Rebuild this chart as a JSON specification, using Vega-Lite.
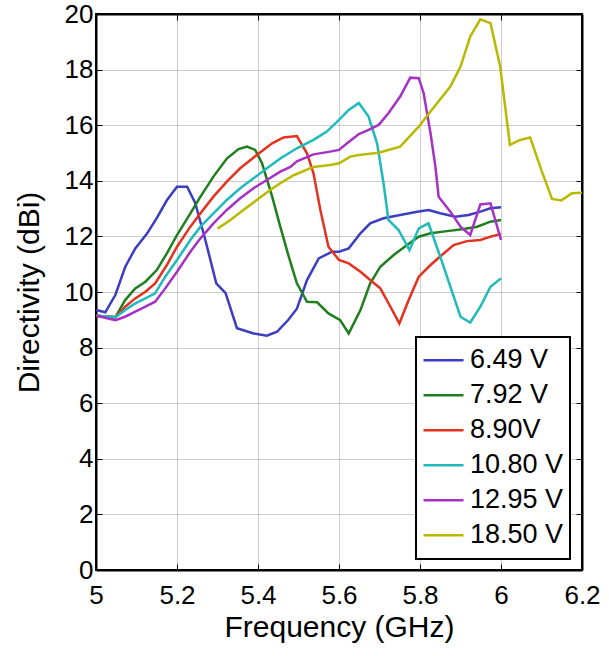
{
  "$schema": "https://vega.github.io/schema/vega-lite/v6.json",
  "width": 486,
  "height": 556,
  "autosize": {"type": "none"},
  "padding": {"left": 96, "top": 14, "right": 27, "bottom": 86},
  "background": "white",
  "config": {
    "font": "Liberation Sans",
    "view": {"stroke": "black", "strokeWidth": 2},
    "axis": {
      "labelFont": "Liberation Sans",
      "labelFontSize": 26,
      "labelColor": "black",
      "titleFont": "Liberation Sans",
      "titleFontSize": 30,
      "titleFontWeight": "normal",
      "titleColor": "black",
      "domainColor": "black",
      "domainWidth": 2,
      "tickColor": "black",
      "tickWidth": 1,
      "tickSize": -6,
      "gridColor": "#9a9a9a",
      "gridDash": [1, 1],
      "gridWidth": 1,
      "labelFlush": false,
      "labelOverlap": false,
      "labelBound": false
    },
    "legend": {
      "orient": "none",
      "legendX": 320,
      "legendY": 323,
      "strokeColor": "black",
      "strokeWidth": 2,
      "fillColor": "white",
      "padding": 6,
      "symbolType": "stroke",
      "symbolSize": 1600,
      "symbolStrokeWidth": 2.5,
      "labelFont": "Liberation Sans",
      "labelFontSize": 27,
      "labelColor": "black",
      "labelOffset": 5,
      "rowPadding": 0,
      "clipHeight": 34.5,
      "title": null
    }
  },
  "data": {
    "values": [
      {"f": 5.0, "d": 9.35, "s": "6.49 V"},
      {"f": 5.023, "d": 9.27, "s": "6.49 V"},
      {"f": 5.048, "d": 9.9, "s": "6.49 V"},
      {"f": 5.072, "d": 10.9, "s": "6.49 V"},
      {"f": 5.097, "d": 11.57, "s": "6.49 V"},
      {"f": 5.126, "d": 12.1, "s": "6.49 V"},
      {"f": 5.15, "d": 12.66, "s": "6.49 V"},
      {"f": 5.175, "d": 13.3, "s": "6.49 V"},
      {"f": 5.2, "d": 13.79, "s": "6.49 V"},
      {"f": 5.225, "d": 13.79, "s": "6.49 V"},
      {"f": 5.245, "d": 13.2, "s": "6.49 V"},
      {"f": 5.27, "d": 11.87, "s": "6.49 V"},
      {"f": 5.297, "d": 10.31, "s": "6.49 V"},
      {"f": 5.32, "d": 9.96, "s": "6.49 V"},
      {"f": 5.348, "d": 8.7, "s": "6.49 V"},
      {"f": 5.389, "d": 8.51, "s": "6.49 V"},
      {"f": 5.422, "d": 8.43, "s": "6.49 V"},
      {"f": 5.447, "d": 8.57, "s": "6.49 V"},
      {"f": 5.475, "d": 9.0, "s": "6.49 V"},
      {"f": 5.496, "d": 9.4, "s": "6.49 V"},
      {"f": 5.521, "d": 10.43, "s": "6.49 V"},
      {"f": 5.55, "d": 11.21, "s": "6.49 V"},
      {"f": 5.583, "d": 11.45, "s": "6.49 V"},
      {"f": 5.6, "d": 11.45, "s": "6.49 V"},
      {"f": 5.624, "d": 11.57, "s": "6.49 V"},
      {"f": 5.653, "d": 12.11, "s": "6.49 V"},
      {"f": 5.677, "d": 12.47, "s": "6.49 V"},
      {"f": 5.71, "d": 12.65, "s": "6.49 V"},
      {"f": 5.751, "d": 12.77, "s": "6.49 V"},
      {"f": 5.793, "d": 12.89, "s": "6.49 V"},
      {"f": 5.821, "d": 12.95, "s": "6.49 V"},
      {"f": 5.85, "d": 12.83, "s": "6.49 V"},
      {"f": 5.887, "d": 12.71, "s": "6.49 V"},
      {"f": 5.92, "d": 12.77, "s": "6.49 V"},
      {"f": 5.949, "d": 12.89, "s": "6.49 V"},
      {"f": 5.974, "d": 13.01, "s": "6.49 V"},
      {"f": 6.0, "d": 13.05, "s": "6.49 V"},

      {"f": 5.0, "d": 9.15, "s": "7.92 V"},
      {"f": 5.048, "d": 9.1, "s": "7.92 V"},
      {"f": 5.072, "d": 9.71, "s": "7.92 V"},
      {"f": 5.097, "d": 10.13, "s": "7.92 V"},
      {"f": 5.122, "d": 10.37, "s": "7.92 V"},
      {"f": 5.15, "d": 10.79, "s": "7.92 V"},
      {"f": 5.175, "d": 11.39, "s": "7.92 V"},
      {"f": 5.2, "d": 12.05, "s": "7.92 V"},
      {"f": 5.233, "d": 12.83, "s": "7.92 V"},
      {"f": 5.258, "d": 13.43, "s": "7.92 V"},
      {"f": 5.29, "d": 14.15, "s": "7.92 V"},
      {"f": 5.323, "d": 14.8, "s": "7.92 V"},
      {"f": 5.352, "d": 15.14, "s": "7.92 V"},
      {"f": 5.373, "d": 15.23, "s": "7.92 V"},
      {"f": 5.393, "d": 15.11, "s": "7.92 V"},
      {"f": 5.41, "d": 14.63, "s": "7.92 V"},
      {"f": 5.435, "d": 13.43, "s": "7.92 V"},
      {"f": 5.455, "d": 12.35, "s": "7.92 V"},
      {"f": 5.476, "d": 11.27, "s": "7.92 V"},
      {"f": 5.496, "d": 10.31, "s": "7.92 V"},
      {"f": 5.521, "d": 9.65, "s": "7.92 V"},
      {"f": 5.546, "d": 9.63, "s": "7.92 V"},
      {"f": 5.574, "d": 9.23, "s": "7.92 V"},
      {"f": 5.603, "d": 8.99, "s": "7.92 V"},
      {"f": 5.624, "d": 8.51, "s": "7.92 V"},
      {"f": 5.653, "d": 9.35, "s": "7.92 V"},
      {"f": 5.677, "d": 10.31, "s": "7.92 V"},
      {"f": 5.702, "d": 10.91, "s": "7.92 V"},
      {"f": 5.735, "d": 11.33, "s": "7.92 V"},
      {"f": 5.768, "d": 11.69, "s": "7.92 V"},
      {"f": 5.797, "d": 11.99, "s": "7.92 V"},
      {"f": 5.826, "d": 12.11, "s": "7.92 V"},
      {"f": 5.867, "d": 12.19, "s": "7.92 V"},
      {"f": 5.908, "d": 12.27, "s": "7.92 V"},
      {"f": 5.941, "d": 12.35, "s": "7.92 V"},
      {"f": 5.974, "d": 12.53, "s": "7.92 V"},
      {"f": 6.0, "d": 12.59, "s": "7.92 V"},

      {"f": 5.0, "d": 9.15, "s": "8.90V"},
      {"f": 5.048, "d": 9.09, "s": "8.90V"},
      {"f": 5.072, "d": 9.47, "s": "8.90V"},
      {"f": 5.097, "d": 9.77, "s": "8.90V"},
      {"f": 5.122, "d": 10.01, "s": "8.90V"},
      {"f": 5.146, "d": 10.31, "s": "8.90V"},
      {"f": 5.175, "d": 10.97, "s": "8.90V"},
      {"f": 5.2, "d": 11.63, "s": "8.90V"},
      {"f": 5.233, "d": 12.35, "s": "8.90V"},
      {"f": 5.258, "d": 12.83, "s": "8.90V"},
      {"f": 5.29, "d": 13.43, "s": "8.90V"},
      {"f": 5.323, "d": 13.97, "s": "8.90V"},
      {"f": 5.356, "d": 14.45, "s": "8.90V"},
      {"f": 5.397, "d": 14.93, "s": "8.90V"},
      {"f": 5.435, "d": 15.35, "s": "8.90V"},
      {"f": 5.463, "d": 15.56, "s": "8.90V"},
      {"f": 5.496, "d": 15.61, "s": "8.90V"},
      {"f": 5.521, "d": 14.99, "s": "8.90V"},
      {"f": 5.537, "d": 14.27, "s": "8.90V"},
      {"f": 5.554, "d": 12.95, "s": "8.90V"},
      {"f": 5.574, "d": 11.63, "s": "8.90V"},
      {"f": 5.6, "d": 11.15, "s": "8.90V"},
      {"f": 5.624, "d": 11.03, "s": "8.90V"},
      {"f": 5.653, "d": 10.73, "s": "8.90V"},
      {"f": 5.677, "d": 10.43, "s": "8.90V"},
      {"f": 5.702, "d": 10.13, "s": "8.90V"},
      {"f": 5.727, "d": 9.47, "s": "8.90V"},
      {"f": 5.749, "d": 8.87, "s": "8.90V"},
      {"f": 5.772, "d": 9.71, "s": "8.90V"},
      {"f": 5.797, "d": 10.55, "s": "8.90V"},
      {"f": 5.826, "d": 10.97, "s": "8.90V"},
      {"f": 5.854, "d": 11.33, "s": "8.90V"},
      {"f": 5.883, "d": 11.69, "s": "8.90V"},
      {"f": 5.916, "d": 11.83, "s": "8.90V"},
      {"f": 5.949, "d": 11.87, "s": "8.90V"},
      {"f": 5.974, "d": 11.99, "s": "8.90V"},
      {"f": 6.0, "d": 12.09, "s": "8.90V"},

      {"f": 5.0, "d": 9.15, "s": "10.80 V"},
      {"f": 5.048, "d": 9.09, "s": "10.80 V"},
      {"f": 5.072, "d": 9.35, "s": "10.80 V"},
      {"f": 5.097, "d": 9.59, "s": "10.80 V"},
      {"f": 5.122, "d": 9.77, "s": "10.80 V"},
      {"f": 5.146, "d": 9.95, "s": "10.80 V"},
      {"f": 5.171, "d": 10.55, "s": "10.80 V"},
      {"f": 5.2, "d": 11.15, "s": "10.80 V"},
      {"f": 5.233, "d": 11.87, "s": "10.80 V"},
      {"f": 5.258, "d": 12.35, "s": "10.80 V"},
      {"f": 5.29, "d": 12.83, "s": "10.80 V"},
      {"f": 5.323, "d": 13.31, "s": "10.80 V"},
      {"f": 5.356, "d": 13.73, "s": "10.80 V"},
      {"f": 5.389, "d": 14.09, "s": "10.80 V"},
      {"f": 5.422, "d": 14.45, "s": "10.80 V"},
      {"f": 5.455, "d": 14.8, "s": "10.80 V"},
      {"f": 5.496, "d": 15.17, "s": "10.80 V"},
      {"f": 5.537, "d": 15.47, "s": "10.80 V"},
      {"f": 5.57, "d": 15.77, "s": "10.80 V"},
      {"f": 5.6, "d": 16.19, "s": "10.80 V"},
      {"f": 5.624, "d": 16.55, "s": "10.80 V"},
      {"f": 5.649, "d": 16.8, "s": "10.80 V"},
      {"f": 5.673, "d": 16.31, "s": "10.80 V"},
      {"f": 5.694, "d": 15.35, "s": "10.80 V"},
      {"f": 5.71, "d": 13.91, "s": "10.80 V"},
      {"f": 5.722, "d": 12.59, "s": "10.80 V"},
      {"f": 5.747, "d": 12.23, "s": "10.80 V"},
      {"f": 5.774, "d": 11.51, "s": "10.80 V"},
      {"f": 5.797, "d": 12.29, "s": "10.80 V"},
      {"f": 5.821, "d": 12.47, "s": "10.80 V"},
      {"f": 5.85, "d": 11.27, "s": "10.80 V"},
      {"f": 5.875, "d": 10.19, "s": "10.80 V"},
      {"f": 5.9, "d": 9.11, "s": "10.80 V"},
      {"f": 5.924, "d": 8.9, "s": "10.80 V"},
      {"f": 5.949, "d": 9.47, "s": "10.80 V"},
      {"f": 5.974, "d": 10.19, "s": "10.80 V"},
      {"f": 6.0, "d": 10.49, "s": "10.80 V"},

      {"f": 5.0, "d": 9.15, "s": "12.95 V"},
      {"f": 5.048, "d": 8.99, "s": "12.95 V"},
      {"f": 5.072, "d": 9.11, "s": "12.95 V"},
      {"f": 5.097, "d": 9.29, "s": "12.95 V"},
      {"f": 5.122, "d": 9.47, "s": "12.95 V"},
      {"f": 5.146, "d": 9.65, "s": "12.95 V"},
      {"f": 5.171, "d": 10.13, "s": "12.95 V"},
      {"f": 5.2, "d": 10.73, "s": "12.95 V"},
      {"f": 5.233, "d": 11.45, "s": "12.95 V"},
      {"f": 5.258, "d": 11.93, "s": "12.95 V"},
      {"f": 5.29, "d": 12.47, "s": "12.95 V"},
      {"f": 5.323, "d": 12.95, "s": "12.95 V"},
      {"f": 5.356, "d": 13.37, "s": "12.95 V"},
      {"f": 5.389, "d": 13.73, "s": "12.95 V"},
      {"f": 5.422, "d": 14.03, "s": "12.95 V"},
      {"f": 5.455, "d": 14.33, "s": "12.95 V"},
      {"f": 5.48, "d": 14.5, "s": "12.95 V"},
      {"f": 5.496, "d": 14.7, "s": "12.95 V"},
      {"f": 5.537, "d": 14.95, "s": "12.95 V"},
      {"f": 5.578, "d": 15.05, "s": "12.95 V"},
      {"f": 5.6, "d": 15.11, "s": "12.95 V"},
      {"f": 5.62, "d": 15.35, "s": "12.95 V"},
      {"f": 5.649, "d": 15.68, "s": "12.95 V"},
      {"f": 5.673, "d": 15.83, "s": "12.95 V"},
      {"f": 5.698, "d": 16.01, "s": "12.95 V"},
      {"f": 5.722, "d": 16.43, "s": "12.95 V"},
      {"f": 5.751, "d": 17.03, "s": "12.95 V"},
      {"f": 5.776, "d": 17.71, "s": "12.95 V"},
      {"f": 5.797, "d": 17.69, "s": "12.95 V"},
      {"f": 5.809, "d": 17.15, "s": "12.95 V"},
      {"f": 5.826, "d": 15.71, "s": "12.95 V"},
      {"f": 5.838, "d": 14.51, "s": "12.95 V"},
      {"f": 5.846, "d": 13.43, "s": "12.95 V"},
      {"f": 5.875, "d": 12.89, "s": "12.95 V"},
      {"f": 5.9, "d": 12.35, "s": "12.95 V"},
      {"f": 5.924, "d": 12.05, "s": "12.95 V"},
      {"f": 5.949, "d": 13.15, "s": "12.95 V"},
      {"f": 5.974, "d": 13.19, "s": "12.95 V"},
      {"f": 6.0, "d": 11.87, "s": "12.95 V"},

      {"f": 5.3, "d": 12.28, "s": "18.50 V"},
      {"f": 5.332, "d": 12.59, "s": "18.50 V"},
      {"f": 5.364, "d": 12.95, "s": "18.50 V"},
      {"f": 5.397, "d": 13.31, "s": "18.50 V"},
      {"f": 5.43, "d": 13.67, "s": "18.50 V"},
      {"f": 5.455, "d": 13.91, "s": "18.50 V"},
      {"f": 5.488, "d": 14.2, "s": "18.50 V"},
      {"f": 5.537, "d": 14.5, "s": "18.50 V"},
      {"f": 5.578, "d": 14.57, "s": "18.50 V"},
      {"f": 5.6, "d": 14.63, "s": "18.50 V"},
      {"f": 5.628, "d": 14.87, "s": "18.50 V"},
      {"f": 5.649, "d": 14.93, "s": "18.50 V"},
      {"f": 5.698, "d": 15.01, "s": "18.50 V"},
      {"f": 5.751, "d": 15.23, "s": "18.50 V"},
      {"f": 5.797, "d": 15.95, "s": "18.50 V"},
      {"f": 5.842, "d": 16.79, "s": "18.50 V"},
      {"f": 5.875, "d": 17.39, "s": "18.50 V"},
      {"f": 5.9, "d": 18.11, "s": "18.50 V"},
      {"f": 5.924, "d": 19.19, "s": "18.50 V"},
      {"f": 5.949, "d": 19.81, "s": "18.50 V"},
      {"f": 5.974, "d": 19.67, "s": "18.50 V"},
      {"f": 5.998, "d": 18.11, "s": "18.50 V"},
      {"f": 6.022, "d": 15.29, "s": "18.50 V"},
      {"f": 6.047, "d": 15.47, "s": "18.50 V"},
      {"f": 6.072, "d": 15.56, "s": "18.50 V"},
      {"f": 6.101, "d": 14.33, "s": "18.50 V"},
      {"f": 6.126, "d": 13.35, "s": "18.50 V"},
      {"f": 6.149, "d": 13.29, "s": "18.50 V"},
      {"f": 6.175, "d": 13.55, "s": "18.50 V"},
      {"f": 6.2, "d": 13.57, "s": "18.50 V"}
    ]
  },
  "layer": [
    {
      "mark": {"type": "line", "strokeWidth": 2.5, "clip": true},
      "encoding": {
        "x": {
          "field": "f", "type": "quantitative",
          "scale": {"domain": [5, 6.2], "nice": false, "zero": false},
          "axis": {"title": "Frequency (GHz)", "values": [5, 5.2, 5.4, 5.6, 5.8, 6, 6.2], "format": "~g", "labelPadding": 18, "titlePadding": 4}
        },
        "y": {
          "field": "d", "type": "quantitative",
          "scale": {"domain": [0, 20], "nice": false},
          "axis": {"title": "Directivity (dBi)", "values": [0, 2, 4, 6, 8, 10, 12, 14, 16, 18, 20], "labelPadding": 9, "titlePadding": 20}
        },
        "color": {
          "field": "s", "type": "nominal",
          "scale": {
            "domain": ["6.49 V", "7.92 V", "8.90V", "10.80 V", "12.95 V", "18.50 V"],
            "range": ["#3d3dc2", "#1f7f1f", "#e3321f", "#1fbaba", "#a632c4", "#b9b900"]
          },
          "legend": {}
        }
      }
    },
    {
      "mark": {"type": "point", "opacity": 0},
      "encoding": {
        "x": {
          "field": "f", "type": "quantitative",
          "axis": {"orient": "top", "title": null, "labels": false, "grid": false, "values": [5, 5.2, 5.4, 5.6, 5.8, 6, 6.2]}
        },
        "y": {
          "field": "d", "type": "quantitative",
          "axis": {"orient": "right", "title": null, "labels": false, "grid": false, "values": [0, 2, 4, 6, 8, 10, 12, 14, 16, 18, 20]}
        }
      }
    }
  ],
  "resolve": {"axis": {"x": "independent", "y": "independent"}}
}
